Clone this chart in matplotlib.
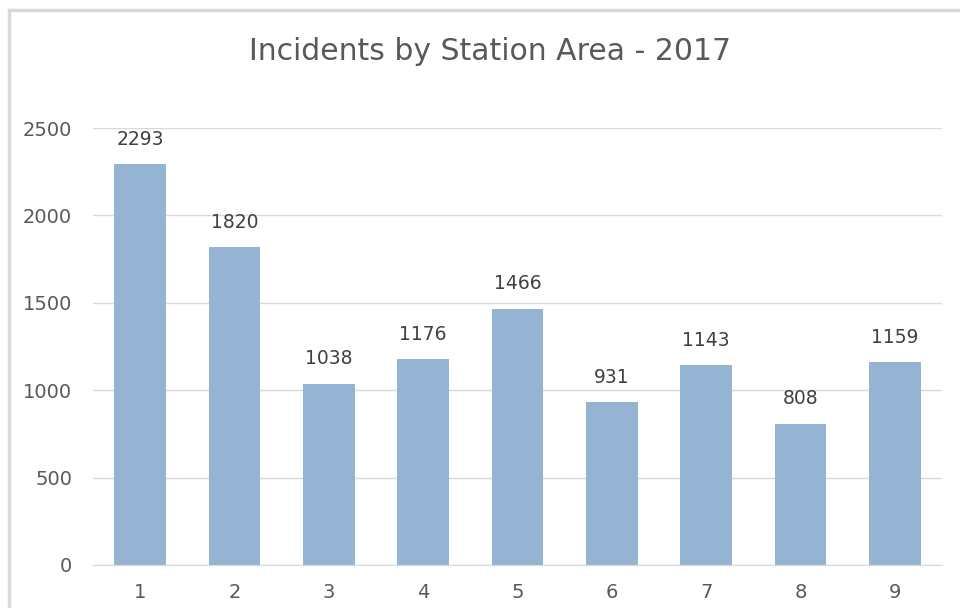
import matplotlib.pyplot as plt
from matplotlib.patches import Rectangle

stations = ["1", "2", "3", "4", "5", "6", "7", "8", "9"]
incidents = [2293, 1820, 1038, 1176, 1466, 931, 1143, 808, 1159]
yticks = [0, 500, 1000, 1500, 2000, 2500]

W, H = 960, 608
fig = plt.figure(figsize=(W / 100, H / 100), dpi=100)
plt.rcParams["font.family"] = ["DejaVu Sans"]

# chart area border (cut off at right and bottom)
fig.add_artist(Rectangle((9 / W, -0.1), 1.2, 1.1 - 10 / H, transform=fig.transFigure,
                         fill=False, edgecolor="#D9D9D9", linewidth=2.5))

ax = fig.add_axes([93 / W, 1 - 565 / H, (942 - 93) / W, (565 - 128) / H])
x = range(len(stations))
ax.bar(x, incidents, width=0.55, color="#95B3D3", zorder=2)
for xi, v in zip(x, incidents):
    ax.annotate(str(v), (xi, v), xytext=(0, 11), textcoords="offset points",
                ha="center", va="bottom", fontsize=13.5, color="#404040")

ax.set_xlim(-0.5, len(stations) - 0.5)
ax.set_ylim(0, 2500)
ax.set_yticks(yticks)
ax.set_xticks(list(x))
ax.set_xticklabels(stations)
ax.grid(axis="y", color="#D9D9D9", linewidth=1, zorder=0)
for s in ["top", "right", "left"]:
    ax.spines[s].set_visible(False)
ax.spines["bottom"].set_color("#D9D9D9")
ax.tick_params(length=0, labelsize=14, colors="#595959")
ax.tick_params(axis="y", pad=15)
ax.tick_params(axis="x", pad=13)

fig.text(490 / W, 1 - 51 / H, "Incidents by Station Area - 2017", ha="center", va="center",
         fontsize=21.5, color="#595959")

fig.savefig("out.png", dpi=100)
